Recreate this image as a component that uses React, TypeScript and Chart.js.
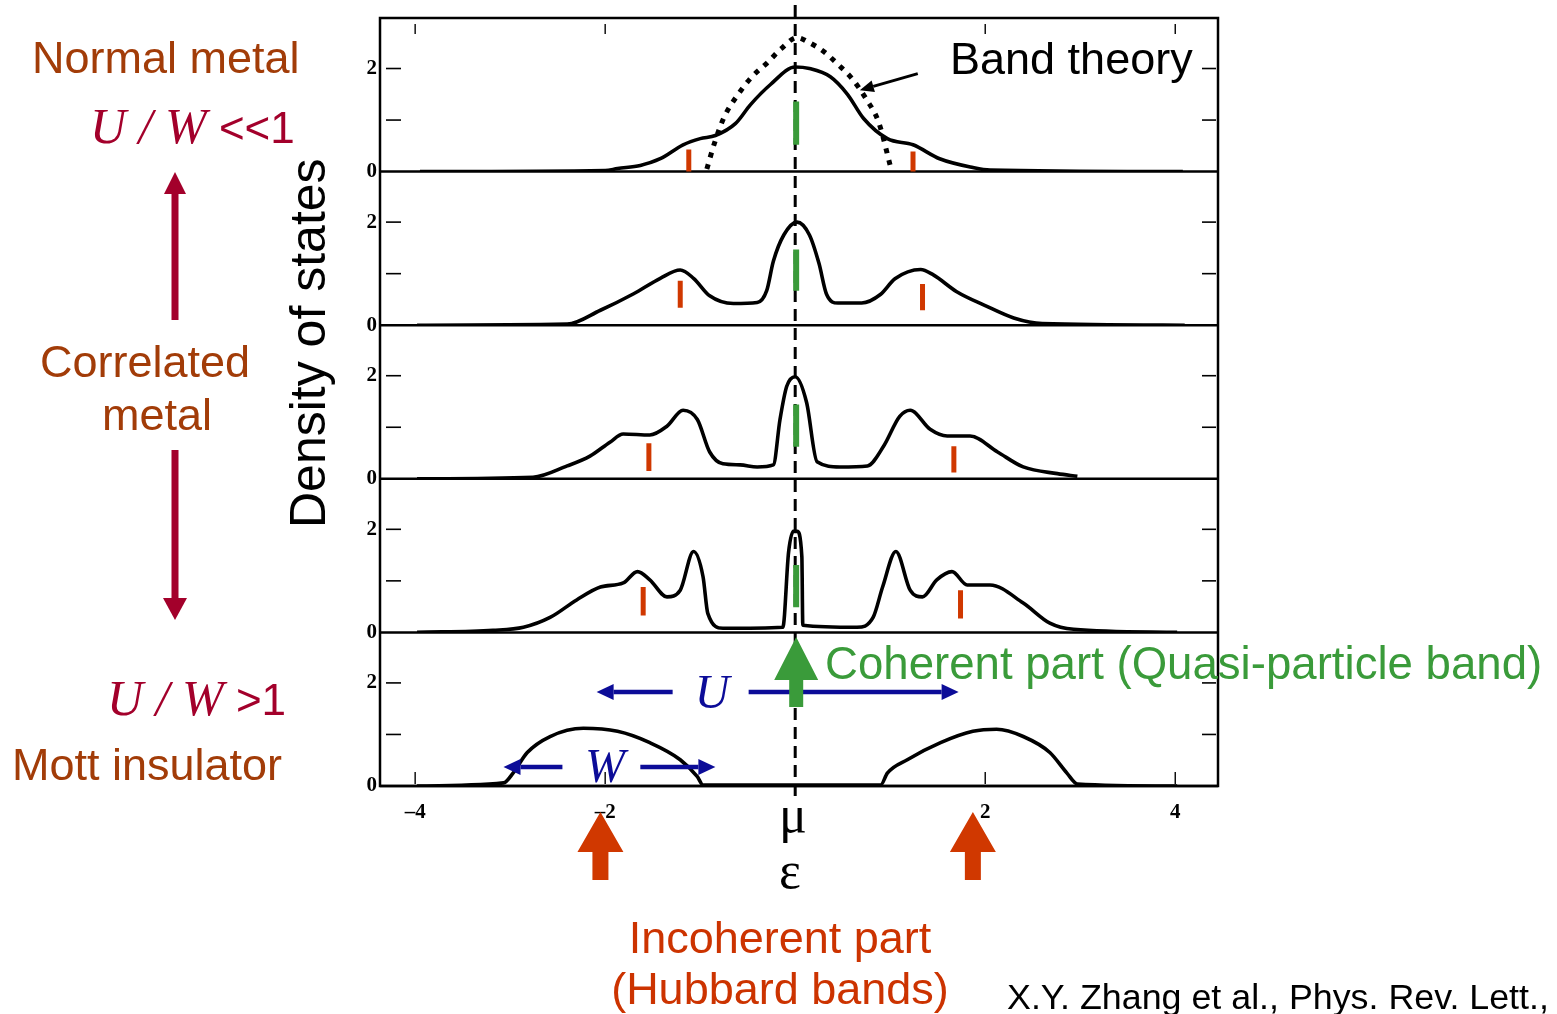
import React, { useEffect, useRef } from 'react';
import { Chart, registerables } from 'chart.js';

Chart.register(...registerables);

// ---------- data (energy in units of half bandwidth, DOS values) ----------
const panelIds = ['y1', 'y2', 'y3', 'y4', 'y5']; // top to bottom

const p1X = [-3.95, -2.0, -1.87, -1.63, -1.42, -1.18, -1.0, -0.84, -0.63, -0.47, -0.26, 0.0, 0.15, 0.37, 0.55, 0.72, 0.97, 1.24, 1.52, 1.87, 2.05, 4.08];
const p1Y = [0, 0.02, 0.06, 0.12, 0.25, 0.52, 0.64, 0.7, 0.93, 1.3, 1.69, 2.03, 2.0, 1.84, 1.5, 1.03, 0.64, 0.52, 0.25, 0.08, 0.03, 0];

const bandX = [-0.93, -0.85, -0.75, -0.6, -0.45, -0.3, -0.15, 0.02, 0.15, 0.3, 0.45, 0.6, 0.75, 0.88, 1.0];
const bandY = [0.05, 0.55, 1.05, 1.5, 1.85, 2.1, 2.38, 2.6, 2.5, 2.33, 2.08, 1.8, 1.4, 0.95, 0.12];

const p2X = [-3.98, -2.4, -2.05, -1.7, -1.42, -1.21, -1.07, -0.9, -0.65, -0.4, -0.3, -0.23, -0.12, 0.02, 0.15, 0.25, 0.33, 0.45, 0.7, 0.9, 1.05, 1.32, 1.45, 1.7, 2.0, 2.3, 2.6, 4.1];
const p2Y = [0, 0.02, 0.29, 0.61, 0.91, 1.07, 0.91, 0.57, 0.42, 0.44, 0.67, 1.24, 1.75, 2.0, 1.75, 1.2, 0.6, 0.43, 0.43, 0.6, 0.9, 1.08, 0.98, 0.65, 0.38, 0.14, 0.03, 0];

const p3X = [-3.98, -2.76, -2.4, -2.16, -1.95, -1.81, -1.53, -1.35, -1.18, -1.03, -0.9, -0.76, -0.58, -0.4, -0.23, -0.16, -0.09, 0.0, 0.12, 0.23, 0.47, 0.76, 0.93, 1.1, 1.21, 1.42, 1.6, 1.84, 2.13, 2.4, 2.76, 2.97];
const p3Y = [0, 0.03, 0.25, 0.44, 0.71, 0.87, 0.85, 1.02, 1.33, 1.15, 0.52, 0.29, 0.27, 0.23, 0.27, 1.15, 1.79, 1.98, 1.48, 0.33, 0.23, 0.25, 0.63, 1.21, 1.33, 0.96, 0.83, 0.83, 0.52, 0.23, 0.1, 0.05];

const p4X = [-3.98, -3.18, -2.86, -2.58, -2.3, -2.05, -1.81, -1.66, -1.53, -1.35, -1.21, -1.07, -0.97, -0.92, -0.76, -0.13, -0.07, -0.02, 0.02, 0.07, 0.08, 0.65, 0.82, 0.92, 1.06, 1.21, 1.34, 1.49, 1.65, 1.81, 2.05, 2.4, 2.68, 2.93, 4.02];
const p4Y = [0, 0.04, 0.1, 0.29, 0.63, 0.88, 0.96, 1.18, 1.02, 0.69, 0.82, 1.57, 1.08, 0.37, 0.08, 0.1, 1.55, 1.96, 1.96, 1.47, 0.14, 0.1, 0.29, 0.88, 1.57, 0.82, 0.69, 1.02, 1.18, 0.92, 0.92, 0.57, 0.18, 0.06, 0];

const p5X = [-3.98, -3.07, -2.97, -2.82, -2.58, -2.23, -1.87, -1.53, -1.21, -1.03, -0.97, 0.9, 0.97, 1.18, 1.53, 1.87, 2.12, 2.4, 2.68, 2.86, 2.97, 4.02];
const p5Y = [0, 0.06, 0.25, 0.65, 0.96, 1.12, 1.06, 0.84, 0.51, 0.18, 0.02, 0.02, 0.25, 0.51, 0.84, 1.06, 1.1, 0.96, 0.65, 0.25, 0.04, 0];

// markers: Hubbard (red) and quasi-particle (green) positions per panel
const redMarkX = [[-1.12, 1.24], [-1.21, 1.34], [-1.54, 1.67], [-1.6, 1.74]];
const redMarkLo = [[-0.1, -0.14], [0.34, 0.29], [0.15, 0.12], [0.33, 0.27]];
const redMarkHi = [[0.43, 0.39], [0.86, 0.8], [0.69, 0.63], [0.88, 0.82]];
const greenMarkX = 0.01;
const greenMarkLo = [0.52, 0.67, 0.62, 0.49];
const greenMarkHi = [1.36, 1.47, 1.44, 1.31];

// annotation anchors (energy values)
const hubbardArrowX = [-2.05, 1.87];
const uArrowLeft = [-1.29, -2.09];
const uArrowRight = [-0.49, 1.72];
const wArrowLeft = [-2.45, -3.07];
const wArrowRight = [-1.63, -0.84];

const xTickValues = [-4, -2, 2, 4];
const xTickLabels = ['–4', '–2', '2', '4'];
const yTickValues = [0, 2];
const yTickLabels = ['0', '2'];

const X_MIN = -4.37;
const X_MAX = 4.45;
const Y_MAX = 2.98;

const BROWN = '#a23c08';
const CRIMSON = '#a3002b';
const GREEN = '#3a9b3a';
const ORANGE = '#cc3300';
const BLUE = '#0c0c98';

const pts = (xs: number[], ys: number[]) => xs.map((x, i) => ({ x, y: ys[i] }));

function arrowLine(ctx: CanvasRenderingContext2D, x1: number, y1: number, x2: number, y2: number, lw: number, hl: number, hw: number, color: string) {
  const ang = Math.atan2(y2 - y1, x2 - x1);
  const bx = x2 - hl * Math.cos(ang);
  const by = y2 - hl * Math.sin(ang);
  ctx.strokeStyle = color;
  ctx.fillStyle = color;
  ctx.lineWidth = lw;
  ctx.beginPath();
  ctx.moveTo(x1, y1);
  ctx.lineTo(bx, by);
  ctx.stroke();
  ctx.beginPath();
  ctx.moveTo(x2, y2);
  ctx.lineTo(bx + hw * Math.sin(ang), by - hw * Math.cos(ang));
  ctx.lineTo(bx - hw * Math.sin(ang), by + hw * Math.cos(ang));
  ctx.closePath();
  ctx.fill();
}

function blockArrowUp(ctx: CanvasRenderingContext2D, xc: number, tip: number, headBase: number, stemBottom: number, headHalf: number, stemHalf: number, color: string) {
  ctx.fillStyle = color;
  ctx.beginPath();
  ctx.moveTo(xc, tip);
  ctx.lineTo(xc + headHalf, headBase);
  ctx.lineTo(xc + stemHalf, headBase);
  ctx.lineTo(xc + stemHalf, stemBottom);
  ctx.lineTo(xc - stemHalf, stemBottom);
  ctx.lineTo(xc - stemHalf, headBase);
  ctx.lineTo(xc - headHalf, headBase);
  ctx.closePath();
  ctx.fill();
}

const framePlugin = {
  id: 'dosFrames',
  beforeDatasetsDraw(chart: any) {
    const ctx: CanvasRenderingContext2D = chart.ctx;
    const { left, right, top, bottom } = chart.chartArea;
    const xs = chart.scales.x;
    ctx.save();
    const line = (a: number, b: number, c: number, d: number) => {
      ctx.beginPath();
      ctx.moveTo(a, b);
      ctx.lineTo(c, d);
      ctx.stroke();
    };
    ctx.strokeStyle = '#000';
    ctx.lineWidth = 2.5;
    ctx.strokeRect(left, top, right - left, bottom - top);
    panelIds.forEach((id) => {
      const s = chart.scales[id];
      const y0 = s.getPixelForValue(0);
      ctx.lineWidth = 2.5;
      line(left, y0, right, y0);
      ctx.lineWidth = 1.6;
      [1, 2].forEach((v) => {
        const y = s.getPixelForValue(v);
        line(left + 6, y, left + 21, y);
        line(right - 16, y, right - 2, y);
      });
    });
    ctx.lineWidth = 1.4;
    xTickValues.forEach((v) => {
      const x = xs.getPixelForValue(v);
      line(x, top + 6, x, top + 16);
      line(x, bottom - 14, x, bottom - 2);
    });
    // dashed Fermi-level line
    const x0 = xs.getPixelForValue(0);
    ctx.lineWidth = 3;
    ctx.setLineDash([12, 7]);
    line(x0, 5, x0, bottom + 12);
    ctx.setLineDash([]);
    ctx.restore();
  },
  afterDatasetsDraw(chart: any) {
    const ctx: CanvasRenderingContext2D = chart.ctx;
    const xs = chart.scales.x;
    const y1 = chart.scales.y1;
    ctx.save();
    // Band theory pointer
    arrowLine(ctx, xs.getPixelForValue(1.29), y1.getPixelForValue(1.9), xs.getPixelForValue(0.68), y1.getPixelForValue(1.58), 3, 14, 6, '#000');
    // U and W arrows
    const uy = 692;
    const wy = 767;
    arrowLine(ctx, xs.getPixelForValue(uArrowLeft[0]), uy, xs.getPixelForValue(uArrowLeft[1]), uy, 4.5, 17, 8, BLUE);
    arrowLine(ctx, xs.getPixelForValue(uArrowRight[0]), uy, xs.getPixelForValue(uArrowRight[1]), uy, 4.5, 17, 8, BLUE);
    arrowLine(ctx, xs.getPixelForValue(wArrowLeft[0]), wy, xs.getPixelForValue(wArrowLeft[1]), wy, 4.5, 17, 8, BLUE);
    arrowLine(ctx, xs.getPixelForValue(wArrowRight[0]), wy, xs.getPixelForValue(wArrowRight[1]), wy, 4.5, 17, 8, BLUE);
    // coherent (green) arrow at the Fermi level
    blockArrowUp(ctx, xs.getPixelForValue(0) + 1, 637, 680, 707, 22, 7, GREEN);
    // incoherent (red) arrows at Hubbard bands
    hubbardArrowX.forEach((v) => blockArrowUp(ctx, xs.getPixelForValue(v), 812, 852, 880, 23, 8, '#d03800'));
    ctx.restore();
  },
};

function App() {
  const ref = useRef<HTMLCanvasElement | null>(null);

  useEffect(() => {
    if (!ref.current) return;
    const curve = (xs: number[], ys: number[], axis: string) => ({
      data: pts(xs, ys),
      yAxisID: axis,
      borderColor: '#000',
      borderWidth: 3.6,
      pointRadius: 0,
      cubicInterpolationMode: 'monotone' as const,
      fill: false,
    });
    const datasets: any[] = [
      curve(p1X, p1Y, 'y1'),
      { ...curve(bandX, bandY, 'y1'), borderWidth: 5, borderDash: [5, 7] },
      curve(p2X, p2Y, 'y2'),
      curve(p3X, p3Y, 'y3'),
      curve(p4X, p4Y, 'y4'),
      curve(p5X, p5Y, 'y5'),
    ];
    redMarkX.forEach((pair, i) => {
      pair.forEach((x, j) => {
        datasets.push({
          data: [{ x, y: redMarkLo[i][j] }, { x, y: redMarkHi[i][j] }],
          yAxisID: panelIds[i],
          borderColor: '#d03800',
          borderWidth: 5,
          pointRadius: 0,
          tension: 0,
          borderCapStyle: 'butt',
        });
      });
      datasets.push({
        data: [{ x: greenMarkX, y: greenMarkLo[i] }, { x: greenMarkX, y: greenMarkHi[i] }],
        yAxisID: panelIds[i],
        borderColor: GREEN,
        borderWidth: 6,
        pointRadius: 0,
        tension: 0,
        borderCapStyle: 'butt',
      });
    });

    const tickFont = { family: '"Liberation Serif", serif', size: 21, weight: 'bold' as const };

    const yScale = () => ({
      type: 'linear' as const,
      position: 'left' as const,
      stack: 'dos',
      stackWeight: 1,
      min: 0,
      max: Y_MAX,
      grid: { display: false, drawTicks: false },
      border: { display: false },
      ticks: {
        stepSize: 1,
        includeBounds: false,
        padding: 3,
        color: '#000',
        font: tickFont,
        callback: (v: any) => {
          const k = yTickValues.findIndex((t) => Math.abs(t - Number(v)) < 1e-6);
          return k >= 0 ? yTickLabels[k] : '';
        },
      },
      afterFit: (s: any) => {
        s.width = 40;
      },
    });

    const scales: any = {
      x: {
        type: 'linear',
        position: 'bottom',
        min: X_MIN,
        max: X_MAX,
        grid: { display: false, drawTicks: false },
        border: { display: false },
        ticks: {
          stepSize: 2,
          includeBounds: false,
          padding: 14,
          maxRotation: 0,
          autoSkip: false,
          color: '#000',
          font: tickFont,
          callback: (v: any) => {
            const k = xTickValues.findIndex((t) => Math.abs(t - Number(v)) < 1e-6);
            return k >= 0 ? xTickLabels[k] : '';
          },
        },
        afterFit: (s: any) => {
          s.height = 60;
        },
      },
    };
    // stacked left axes are placed in reverse definition order, so define bottom panel first
    [...panelIds].reverse().forEach((id) => {
      scales[id] = yScale();
    });

    const chart = new Chart(ref.current, {
      type: 'line',
      data: { datasets },
      options: {
        animation: false,
        responsive: false,
        devicePixelRatio: 1,
        events: [],
        layout: { padding: { left: 340, right: 339, top: 18, bottom: 168 } },
        plugins: { legend: { display: false }, tooltip: { enabled: false }, title: { display: false } },
        scales,
      },
      plugins: [framePlugin],
    });
    return () => chart.destroy();
  }, []);

  const sans = '"Liberation Sans", Arial, sans-serif';
  const serif = '"Liberation Serif", "Times New Roman", serif';

  return (
    <div style={{ position: 'absolute', left: 0, top: 0, width: 1557, height: 1014, background: '#fff', overflow: 'hidden' }}>
      <canvas ref={ref} width={1557} height={1014} style={{ position: 'absolute', left: 0, top: 0 }} />
      <svg width={1557} height={1014} style={{ position: 'absolute', left: 0, top: 0 }}>
        {/* left annotations */}
        <text x={32} y={73} fontFamily={sans} fontSize={45} fill={BROWN}>Normal metal</text>
        <text x={90} y={143} fill={CRIMSON}>
          <tspan fontFamily={serif} fontStyle="italic" fontSize={50}>U / W</tspan>
          <tspan fontFamily={sans} fontSize={44}> &lt;&lt;1</tspan>
        </text>
        <polygon points="164,194 175,172 186,194" fill={CRIMSON} />
        <rect x={171.5} y={192} width={7} height={128} fill={CRIMSON} />
        <text x={40} y={377} fontFamily={sans} fontSize={45} fill={BROWN}>Correlated</text>
        <text x={157} y={430} fontFamily={sans} fontSize={45} fill={BROWN} textAnchor="middle">metal</text>
        <rect x={171.5} y={450} width={7} height={150} fill={CRIMSON} />
        <polygon points="163,598 175,620 187,598" fill={CRIMSON} />
        <text x={107} y={715} fill={CRIMSON}>
          <tspan fontFamily={serif} fontStyle="italic" fontSize={50}>U / W</tspan>
          <tspan fontFamily={sans} fontSize={44}> &gt;1</tspan>
        </text>
        <text x={12} y={780} fontFamily={sans} fontSize={45} fill={BROWN}>Mott insulator</text>

        {/* axis title */}
        <text transform="translate(325,528) rotate(-90)" fontFamily={sans} fontSize={50} fill="#000">Density of states</text>

        {/* plot annotations */}
        <text x={950} y={74} fontFamily={sans} fontSize={45} fill="#000">Band theory</text>
        <text x={825} y={679} fontFamily={sans} fontSize={45.6} fill={GREEN}>Coherent part (Quasi-particle band)</text>
        <text x={712} y={708} fontFamily={serif} fontStyle="italic" fontSize={48} fill={BLUE} textAnchor="middle">U</text>
        <text x={605} y={782} fontFamily={serif} fontStyle="italic" fontSize={48} fill={BLUE} textAnchor="middle">W</text>
        <text x={793} y={832} fontFamily={serif} fontSize={52} fill="#000" textAnchor="middle">μ</text>
        <text x={790} y={888} fontFamily={serif} fontSize={52} fill="#000" textAnchor="middle">ε</text>
        <text x={780} y={953} fontFamily={sans} fontSize={45} fill={ORANGE} textAnchor="middle">Incoherent part</text>
        <text x={780} y={1004} fontFamily={sans} fontSize={45} fill={ORANGE} textAnchor="middle">(Hubbard bands)</text>
        <text x={1007} y={1009} fontFamily={sans} fontSize={35.8} fill="#000">X.Y. Zhang et al., Phys. Rev. Lett.,</text>
      </svg>
    </div>
  );
}

export default App;
